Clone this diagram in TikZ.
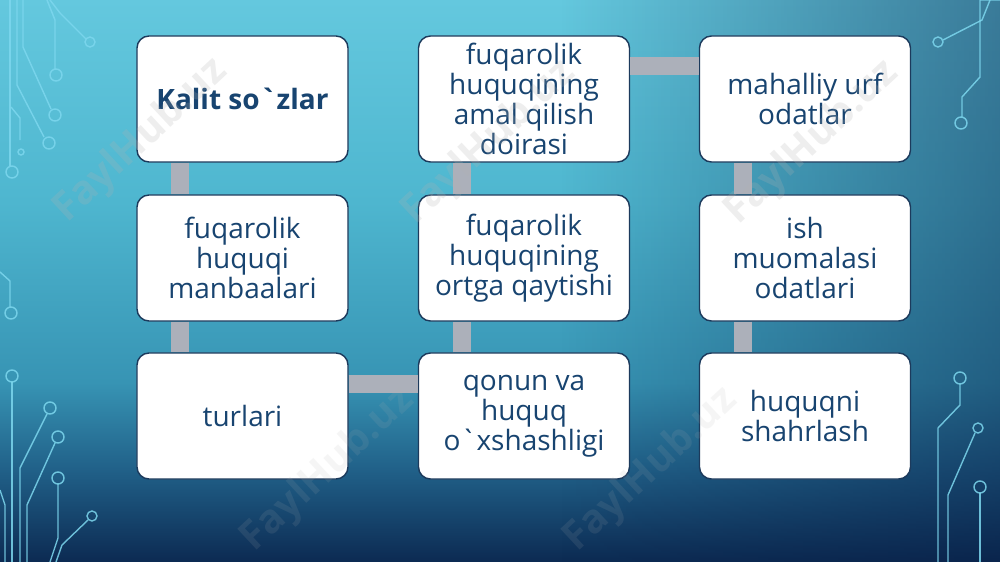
\documentclass[tikz,border=0pt]{standalone}
\usepackage{fontspec}
\setmainfont{Open Sans}[Ligatures=TeXOff]
\usepackage{tikz}
\usetikzlibrary{fadings}
\definecolor{bgdark}{RGB}{8,30,70}
\definecolor{bga}{RGB}{12,42,82}
\definecolor{bgb}{RGB}{32,95,135}
\definecolor{bgc}{RGB}{55,148,180}
\definecolor{bgd}{RGB}{78,182,207}
\definecolor{bge}{RGB}{100,200,222}
\definecolor{wirecol}{RGB}{125,215,238}
\definecolor{textcol}{RGB}{24,68,112}
\definecolor{edgecol}{RGB}{28,58,92}
\definecolor{barcol}{RGB}{172,176,186}
\pgfdeclareverticalshading{bgshade}{100bp}{%
  color(0bp)=(bga); color(25bp)=(bga); color(33bp)=(bgb); color(41bp)=(bgc);
  color(57bp)=(bgd); color(75bp)=(bge); color(100bp)=(bge)}

\begin{document}
\begin{tikzpicture}[x=0.03cm,y=-0.03cm,
    keybox/.style={draw=edgecol, line width=1.2pt, fill=white, rounded corners=0.36cm,
      minimum width=6.33cm, minimum height=3.78cm, inner sep=0pt, outer sep=0pt,
      align=center, text=textcol, font=\fontsize{23.9}{25.6}\selectfont},
    bar/.style={barcol, line width=0.54cm, shorten <=0.6pt, shorten >=0.6pt},
    wire/.style={wirecol, line width=1.2pt, opacity=0.85},
    mark wm/.style={text=gray!60, opacity=0.22, rotate=43,
      font=\fontsize{34}{34}\selectfont\bfseries}]
      \useasboundingbox (0,0) rectangle (1000,562);

      % FOND
      \shade[shading=bgshade] (0,0) rectangle (1000,562);
      \fill[bgdark, path fading=west, opacity=0.45] (560,0) rectangle (1000,562);

      % CIRCUITS GAUCHE
      \draw[wire] (50,0) -- (60,13) -- (86,39);
      \draw[wire] (90,42) circle (0.15cm);
      \draw[wire] (47,0) -- (55,20) -- (55,69);
      \draw[wire] (56,75) circle (0.18cm);
      \draw[wire] (23,0) -- (23,47) -- (51,109);
      \draw[wire] (55,115) circle (0.18cm);
      \draw[wire] (17,0) -- (17,85) -- (44,137);
      \draw[wire] (49,143) circle (0.18cm);
      \draw[wire] (10,0) -- (10,166);
      \draw[wire] (12,172) circle (0.18cm);
      \draw[wire] (11,107) -- (20,118) -- (20,140);
      \draw[wire] (21,152) circle (0.09cm);
      \draw[wire] (0,272) -- (10,281) -- (10,307);
      \draw[wire] (11,313) circle (0.18cm);
      \draw[wire] (12,382) -- (12,562);
      \draw[wire] (12,376) circle (0.18cm);
      \draw[wire] (47,414) -- (20,468) -- (20,562);
      \draw[wire] (50,408) circle (0.18cm);
      \draw[wire] (55,443) -- (27,505) -- (27,562);
      \draw[wire] (58,437) circle (0.18cm);
      \draw[wire] (58,484) -- (58,538) -- (50,562);
      \draw[wire] (58,478) circle (0.18cm);
      \draw[wire] (88,520) -- (62,545) -- (56,562);
      \draw[wire] (92,516) circle (0.15cm);
      \draw[wire] (0,490) -- (5,505) -- (5,562);

      % CIRCUITS DROITE
      \draw[wire] (990,0) -- (982,20) -- (943,40);
      \draw[wire] (938,42) circle (0.15cm);
      \draw[wire] (1000,0) -- (980,0) -- (980,77) -- (962,97) -- (962,117);
      \draw[wire] (961,123) circle (0.18cm);
      \draw[wire] (960,384) -- (960,405) -- (938,428) -- (938,562);
      \draw[wire] (960,378) circle (0.18cm);
      \draw[wire] (975,433) -- (948,495) -- (948,562);
      \draw[wire] (978,428) circle (0.15cm);
      \draw[wire] (980,493) -- (980,562);
      \draw[wire] (980,487) circle (0.18cm);

      % BLOCS
      \node[keybox, font=\fontsize{23.9}{25.6}\selectfont\bfseries] (kalit) at (242.5,99) {Kalit so`zlar};
      \node[keybox] (manba) at (242.5,258) {fuqarolik\\huquqi\\manbaalari};
      \node[keybox] (turlari) at (242.5,416) {turlari};
      \node[keybox] (doira) at (524,99) {fuqarolik\\huquqining\\amal qilish\\doirasi};
      \node[keybox] (ortga) at (524,258) {fuqarolik\\huquqining\\ortga qaytishi};
      \node[keybox] (qonun) at (524,416) {qonun va\\huquq\\o`xshashligi};
      \node[keybox] (urf) at (805,99) {mahalliy urf\\odatlar};
      \node[keybox] (ish) at (805,258) {ish\\muomalasi\\odatlari};
      \node[keybox] (shahr) at (805,416) {huquqni\\shahrlash};

      % LIAISONS
      \draw[bar] ([xshift=1.29cm]kalit.south west) -- ([xshift=1.29cm]manba.north west);
      \draw[bar] ([xshift=1.29cm]manba.south west) -- ([xshift=1.29cm]turlari.north west);
      \draw[bar] ([yshift=-0.93cm]turlari.north east) -- ([yshift=-0.93cm]qonun.north west);
      \draw[bar] ([xshift=1.29cm]qonun.north west) -- ([xshift=1.29cm]ortga.south west);
      \draw[bar] ([xshift=1.29cm]ortga.north west) -- ([xshift=1.29cm]doira.south west);
      \draw[bar] ([yshift=-0.9cm]doira.north east) -- ([yshift=-0.9cm]urf.north west);
      \draw[bar] ([xshift=1.29cm]urf.south west) -- ([xshift=1.29cm]ish.north west);
      \draw[bar] ([xshift=1.29cm]ish.south west) -- ([xshift=1.29cm]shahr.north west);

      % FILIGRANE
      \node[mark wm] (wm1) at (141,141) {FaylHub.uz};
      \node[mark wm] (wm2) at (489,143) {FaylHub.uz};
      \node[mark wm] (wm3) at (812,143) {FaylHub.uz};
      \node[mark wm, opacity=0.12] (wm4) at (328,470) {FaylHub.uz};
      \node[mark wm, opacity=0.12] (wm5) at (651,470) {FaylHub.uz};
\end{tikzpicture}
\end{document}
